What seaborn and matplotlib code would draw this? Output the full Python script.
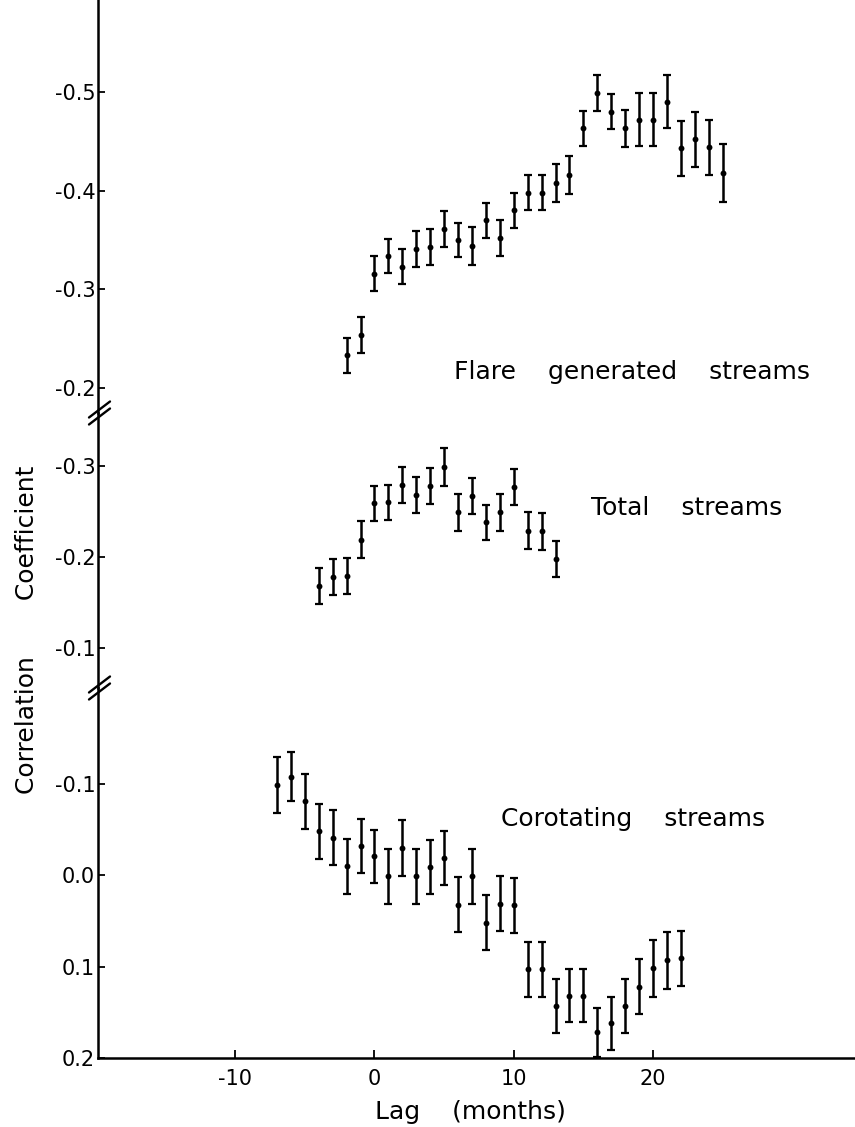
import matplotlib
matplotlib.use("Agg")
import matplotlib.pyplot as plt
import seaborn as sns
from matplotlib.lines import Line2D

# ---------------- data ----------------
flare_lag = list(range(-2, 26))
flare_r = [-0.233, -0.254, -0.316, -0.334, -0.323, -0.341, -0.343, -0.361, -0.350, -0.344,
           -0.370, -0.352, -0.380, -0.398, -0.398, -0.408, -0.416, -0.463, -0.499, -0.480,
           -0.463, -0.472, -0.472, -0.490, -0.443, -0.452, -0.444, -0.418]
flare_err = [0.018, 0.018, 0.018, 0.017, 0.018, 0.018, 0.018, 0.018, 0.017, 0.019,
             0.018, 0.018, 0.018, 0.018, 0.018, 0.019, 0.019, 0.018, 0.018, 0.018,
             0.019, 0.027, 0.027, 0.027, 0.028, 0.028, 0.028, 0.029]

total_lag = list(range(-4, 14))
total_r = [-0.168, -0.178, -0.179, -0.219, -0.259, -0.260, -0.279, -0.268, -0.278, -0.299,
           -0.249, -0.267, -0.238, -0.249, -0.277, -0.229, -0.228, -0.198]
total_err = [0.020, 0.020, 0.020, 0.020, 0.019, 0.019, 0.020, 0.020, 0.020, 0.021,
             0.020, 0.020, 0.019, 0.020, 0.020, 0.020, 0.020, 0.020]

cor_lag = list(range(-7, 23))
cor_r = [-0.099, -0.108, -0.081, -0.048, -0.041, -0.010, -0.032, -0.021, 0.001, -0.030,
         0.001, -0.009, -0.019, 0.032, 0.001, 0.052, 0.031, 0.033, 0.103, 0.103,
         0.143, 0.132, 0.132, 0.172, 0.162, 0.143, 0.122, 0.102, 0.093, 0.091]
cor_err = [0.031, 0.027, 0.030, 0.030, 0.030, 0.030, 0.030, 0.029, 0.030, 0.031,
           0.030, 0.030, 0.030, 0.030, 0.030, 0.030, 0.030, 0.030, 0.030, 0.030,
           0.030, 0.029, 0.029, 0.027, 0.029, 0.030, 0.030, 0.031, 0.031, 0.030]

flare_ticks = [-0.5, -0.4, -0.3, -0.2]
flare_ticklabels = ["-0.5", "-0.4", "-0.3", "-0.2"]
total_ticks = [-0.3, -0.2, -0.1]
total_ticklabels = ["-0.3", "-0.2", "-0.1"]
cor_ticks = [-0.1, 0.0, 0.1, 0.2]
cor_ticklabels = ["-0.1", "0.0", "0.1", "0.2"]
x_ticks = [-10, 0, 10, 20]
x_ticklabels = ["-10", "0", "10", "20"]

panel_labels = ["Flare    generated    streams", "Total    streams", "Corotating    streams"]

# ---------------- style ----------------
sns.set_style("ticks")
plt.rcParams['font.family'] = ['DejaVu Sans']
plt.rcParams.update({"text.color": "black", "axes.labelcolor": "black",
                     "xtick.color": "black", "ytick.color": "black",
                     "axes.edgecolor": "black"})

W, H = 855, 1127
fig = plt.figure(figsize=(W / 100, H / 100), dpi=100)

left_px = 98
def ax_rect(top_px, bot_px):
    return [left_px / W, 1 - bot_px / H, 1 - left_px / W, (bot_px - top_px) / H]

ax_top = fig.add_axes(ax_rect(0, 413))
ax_mid = fig.add_axes(ax_rect(413, 688))
ax_bot = fig.add_axes(ax_rect(688, 1058))

XLIM = (-19.85, 34.5)
panels = [
    (ax_top, flare_lag, flare_r, flare_err, (-0.1747, -0.5932), flare_ticks, flare_ticklabels),
    (ax_mid, total_lag, total_r, total_err, (-0.056, -0.3582), total_ticks, total_ticklabels),
    (ax_bot, cor_lag, cor_r, cor_err, (0.2, -0.205), cor_ticks, cor_ticklabels),
]

for ax, lag, r, err, ylim, yt, ytl in panels:
    ax.set_facecolor("none")
    ax.errorbar(lag, r, yerr=err, fmt="none", ecolor="black", elinewidth=1.8,
                capsize=3.2, capthick=1.6, clip_on=False, zorder=2)
    sns.scatterplot(x=lag, y=r, ax=ax, color="black", s=18, linewidth=0,
                    zorder=3, clip_on=False, legend=False)
    ax.set_xlim(*XLIM)
    ax.set_ylim(*ylim)
    ax.set_yticks(yt)
    ax.set_yticklabels(ytl, fontsize=15, color="black")
    ax.tick_params(axis="y", direction="in", length=5, width=1.3, pad=2, colors="black")
    for s in ["top", "right"]:
        ax.spines[s].set_visible(False)
    ax.spines["left"].set_linewidth(1.8)
    ax.spines["left"].set_color("black")
    ax.set_xlabel("")
    ax.set_ylabel("")

for ax in (ax_top, ax_mid):
    ax.spines["bottom"].set_visible(False)
    ax.set_xticks([])

ax_bot.spines["bottom"].set_linewidth(1.8)
ax_bot.spines["bottom"].set_color("black")
ax_bot.set_xticks(x_ticks)
ax_bot.set_xticklabels(x_ticklabels, fontsize=15, color="black")
ax_bot.tick_params(axis="x", direction="in", length=6, width=1.3, pad=8, colors="black")

# panel annotations
ax_top.text(5.73, -0.216, panel_labels[0], fontsize=18, ha="left", va="center", color="black")
ax_mid.text(15.56, -0.254, panel_labels[1], fontsize=18, ha="left", va="center", color="black")
ax_bot.text(9.08, -0.062, panel_labels[2], fontsize=18, ha="left", va="center", color="black")

# axis titles
fig.text(27 / W, 1 - 630 / H, "Correlation       Coefficient", rotation=90,
         ha="center", va="center", fontsize=18, color="black")
fig.text(470 / W, 1 - 1112 / H, "Lag    (months)", ha="center", va="center",
         fontsize=18, color="black")

# axis break marks "//" on the left spine
for b in (413, 688):
    for off in (-3.5, 3.5):
        x0, y0 = left_px - 9, b + off + 8
        x1, y1 = left_px + 12, b + off - 8
        fig.add_artist(Line2D([x0 / W, x1 / W], [1 - y0 / H, 1 - y1 / H],
                              transform=fig.transFigure, color="black", lw=1.7))

fig.savefig("out.png", dpi=100)
